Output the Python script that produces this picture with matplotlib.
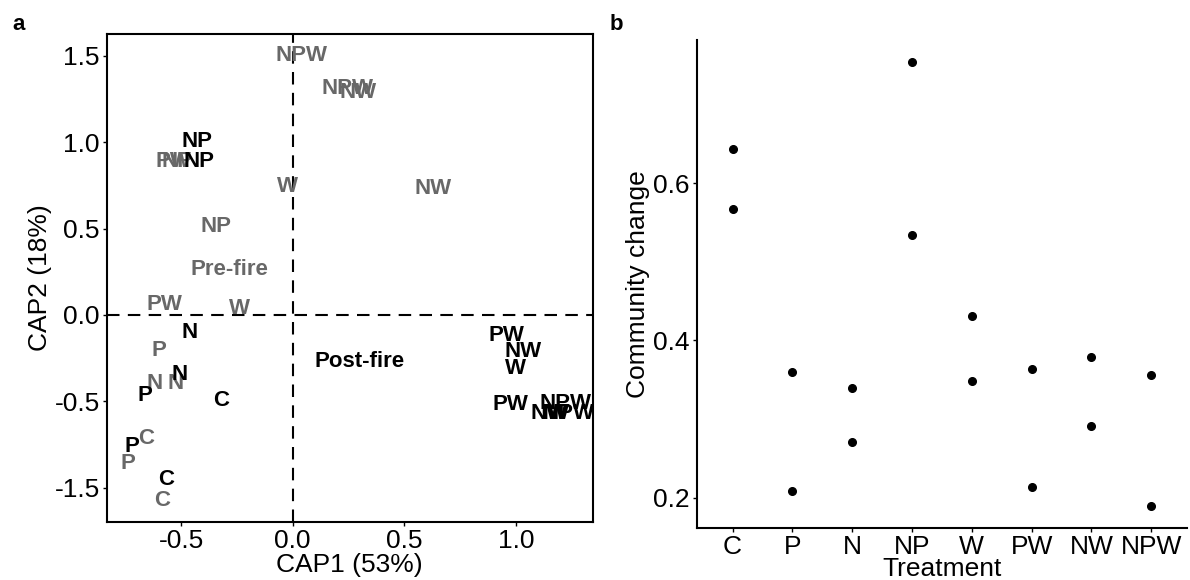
import matplotlib
matplotlib.use("Agg")
import matplotlib.pyplot as plt

plt.rcParams["font.family"] = ["Liberation Sans", "DejaVu Sans"]

# panel a: CAP ordination, treatment labels (pre-fire in gray, post-fire in black)
pre_labels = ["NPW", "NPW", "NW", "PW", "NP", "W", "NW", "NP",
              "PW", "W", "P", "N", "N", "C", "P", "C"]
pre_cap1 = [0.040, 0.246, 0.294, -0.535, -0.52, -0.024, 0.630, -0.345,
            -0.575, -0.237, -0.598, -0.524, -0.621, -0.658, -0.737, -0.584]
pre_cap2 = [1.500, 1.313, 1.287, 0.888, 0.888, 0.743, 0.734, 0.515,
            0.058, 0.039, -0.207, -0.396, -0.396, -0.714, -0.859, -1.075]

post_labels = ["NP", "NP", "N", "N", "P", "C", "P", "C",
               "PW", "NW", "W", "PW", "NPW", "NW", "W", "NPW"]
post_cap1 = [-0.430, -0.418, -0.464, -0.505, -0.661, -0.322, -0.721, -0.569,
             0.957, 1.033, 0.998, 0.973, 1.223, 1.150, 1.190, 1.233]
post_cap2 = [1.003, 0.888, -0.102, -0.347, -0.469, -0.496, -0.762, -0.955,
             -0.116, -0.212, -0.309, -0.521, -0.510, -0.568, -0.568, -0.568]

centroid_names = ["Pre-fire", "Post-fire"]
centroid_cap1 = [-0.284, 0.300]
centroid_cap2 = [0.265, -0.270]

cap_xticks = [-0.5, 0.0, 0.5, 1.0]
cap_xticklabels = ["-0.5", "0.0", "0.5", "1.0"]
cap_yticks = [1.5, 1.0, 0.5, 0.0, -0.5, -1.0]
cap_yticklabels = ["1.5", "1.0", "0.5", "0.0", "-0.5", "-1.5"]

# panel b: community change per treatment (two replicates each)
treatments = ["C", "P", "N", "NP", "W", "PW", "NW", "NPW"]
change_rep1 = [0.644, 0.360, 0.340, 0.754, 0.431, 0.364, 0.379, 0.356]
change_rep2 = [0.567, 0.209, 0.271, 0.534, 0.348, 0.214, 0.291, 0.190]
change_yticks = [0.2, 0.4, 0.6]

GRAY = "#686868"
TICK_FS = 19
LABEL_FS = 16

fig = plt.figure(figsize=(11.9, 5.8), dpi=100)
ax_a = fig.add_axes([0.0897, 0.1005, 0.4083, 0.8409])
ax_b = fig.add_axes([0.5855, 0.0902, 0.4120, 0.8408])

# --- panel a
ax_a.axhline(0, color="black", lw=1.5, ls=(0, (6, 4)), zorder=1)
ax_a.axvline(0, color="black", lw=1.5, ls=(0, (6, 4)), zorder=1)
for lab, x, y in zip(pre_labels, pre_cap1, pre_cap2):
    ax_a.text(x, y, lab, color=GRAY, fontsize=LABEL_FS, fontweight="bold",
              ha="center", va="center", zorder=2)
for lab, x, y in zip(post_labels, post_cap1, post_cap2):
    ax_a.text(x, y, lab, color="black", fontsize=LABEL_FS, fontweight="bold",
              ha="center", va="center", zorder=3)
for lab, x, y, c in zip(centroid_names, centroid_cap1, centroid_cap2, [GRAY, "black"]):
    ax_a.text(x, y, lab, color=c, fontsize=LABEL_FS, fontweight="bold",
              ha="center", va="center", zorder=3)

ax_a.set_xlim(-0.833, 1.343)
ax_a.set_ylim(-1.197, 1.627)
ax_a.set_xticks(cap_xticks)
ax_a.set_xticklabels(cap_xticklabels)
ax_a.set_yticks(cap_yticks)
ax_a.set_yticklabels(cap_yticklabels)
ax_a.set_xlabel("CAP1 (53%)", fontsize=TICK_FS, labelpad=0)
ax_a.set_ylabel("CAP2 (18%)", fontsize=TICK_FS, labelpad=2)
for sp in ax_a.spines.values():
    sp.set_linewidth(1.5)

# --- panel b
xpos = list(range(1, len(treatments) + 1))
ax_b.plot(xpos, change_rep1, "o", color="black", ms=5.5, ls="none")
ax_b.plot(xpos, change_rep2, "o", color="black", ms=5.5, ls="none")
ax_b.set_xlim(0.4, 8.6)
ax_b.set_ylim(0.162, 0.782)
ax_b.set_xticks(xpos)
ax_b.set_xticklabels(treatments)
ax_b.set_yticks(change_yticks)
ax_b.set_yticklabels([f"{v:.1f}" for v in change_yticks])
ax_b.set_xlabel("Treatment", fontsize=TICK_FS, labelpad=-1)
ax_b.set_ylabel("Community change", fontsize=TICK_FS, labelpad=2)
ax_b.spines["top"].set_visible(False)
ax_b.spines["right"].set_visible(False)
for sp in ("left", "bottom"):
    ax_b.spines[sp].set_linewidth(1.5)

for ax in (ax_a, ax_b):
    ax.tick_params(direction="out", length=3, width=1, pad=2,
                   labelsize=TICK_FS, colors="black")

fig.text(0.010, 0.948, "a", fontsize=16, fontweight="bold", va="baseline")
fig.text(0.512, 0.948, "b", fontsize=16, fontweight="bold", va="baseline")

fig.savefig("out.png", dpi=100)
